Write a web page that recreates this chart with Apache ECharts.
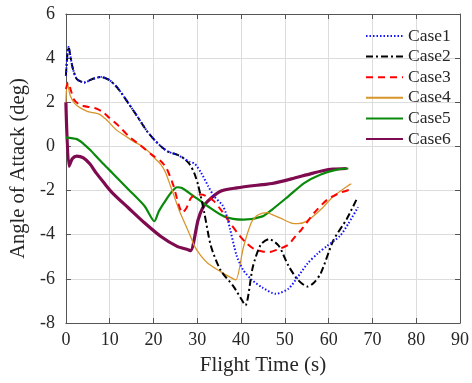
<!DOCTYPE html>
<html>
<head>
<meta charset="utf-8">
<script src="https://cdn.jsdelivr.net/npm/echarts@6/dist/echarts.min.js"></script>
<style>html,body{margin:0;padding:0;background:#fff}#c{width:472px;height:383px}</style>
</head>
<body>
<div id="c"></div>
<script>
// ---- data ----
const xTicks = [0, 10, 20, 30, 40, 50, 60, 70, 80, 90];
const yTicks = [-8, -6, -4, -2, 0, 2, 4, 6];
const seriesNames = ['Case1', 'Case2', 'Case3', 'Case4', 'Case5', 'Case6'];

const case1T = [0, 0.6, 1.5, 2.5, 4.2, 6, 8, 10, 12, 14.3, 16.5, 18.5, 20.2, 22, 23.5, 25.5, 27, 28.3, 29.4, 30.9, 32.5, 33.8, 35.7, 36.5, 37.5, 39, 40.5, 42.5, 44.9, 47.9, 50.8, 53, 55.2, 57.5, 59.7, 62.6, 64.5, 66.7];
const case1V = [3.2, 4.5, 3.6, 3.05, 2.9, 3.05, 3.15, 3.0, 2.6, 1.95, 1.3, 0.7, 0.3, -0.05, -0.25, -0.38, -0.55, -0.7, -0.78, -1.2, -1.8, -2.25, -2.65, -3.0, -3.75, -4.95, -5.6, -6.05, -6.4, -6.68, -6.45, -5.9, -5.3, -4.85, -4.5, -4.05, -3.5, -2.75];

const case2T = [0, 0.6, 1.5, 2.5, 4.2, 6, 8, 10, 12, 14.3, 16.5, 18.5, 20.2, 22, 23.5, 25.5, 27, 28.3, 29.3, 30.2, 31.6, 33.1, 35.3, 38.3, 40, 41, 42.7, 44.5, 46.4, 48.6, 50.8, 53, 55.2, 56.5, 58.2, 61.1, 64.1, 66.5];
const case2V = [3.2, 4.5, 3.6, 3.05, 2.9, 3.05, 3.15, 3.0, 2.6, 1.95, 1.3, 0.7, 0.3, -0.05, -0.25, -0.38, -0.55, -0.82, -1.2, -1.75, -3.0, -4.5, -5.6, -6.35, -6.9, -7.2, -5.45, -4.45, -4.2, -4.5, -5.4, -6.05, -6.35, -6.2, -5.75, -4.25, -3.3, -2.35];

const case3T = [0, 0.5, 1.2, 1.8, 3, 4, 6.9, 8.5, 9.9, 12.1, 14.3, 17, 19.5, 21.7, 23, 24.6, 25.7, 26.6, 27.5, 28.7, 30.9, 32.5, 33.8, 35.5, 37.5, 39.5, 41.2, 43, 44.9, 46.5, 48.2, 50.8, 52.5, 53.8, 56.7, 59.7, 62.6, 65];
const case3V = [2.6, 2.9, 2.5, 2.14, 1.9, 1.83, 1.72, 1.55, 1.3, 0.92, 0.47, 0.05, -0.36, -0.67, -1.0, -1.8, -2.6, -3.0, -2.8, -2.3, -2.18, -2.3, -2.48, -2.9, -3.47, -4.0, -4.38, -4.65, -4.76, -4.78, -4.68, -4.45, -4.05, -3.77, -3.01, -2.41, -2.1, -1.95];

const case4T = [0, 0.3, 1, 2, 3.2, 5, 6.2, 7.7, 9, 9.9, 11.5, 13.6, 15.5, 17.3, 19, 19.8, 21.7, 22.8, 23.9, 25, 26.1, 27.2, 28.3, 29.4, 30.8, 32.4, 35.3, 37.5, 38.8, 40.5, 42.3, 43.5, 44.9, 46, 47.1, 49, 51.5, 53, 55.2, 58.2, 61.1, 64.8, 65.2];
const case4V = [2.0, 2.9, 2.3, 1.95, 1.76, 1.58, 1.53, 1.45, 1.25, 1.08, 0.75, 0.47, 0.22, 0.02, -0.25, -0.44, -0.82, -1.2, -1.8, -2.41, -3.01, -3.5, -4.0, -4.53, -4.95, -5.29, -5.67, -5.92, -6.05, -4.6, -3.47, -3.15, -3.02, -3.0, -3.09, -3.25, -3.47, -3.5, -3.36, -2.86, -2.26, -1.73, -1.7];

const case5T = [0, 2.5, 4, 5.5, 6.9, 8.7, 10.6, 14.3, 18, 20.2, 21.2, 22.4, 24, 25.4, 26.5, 28.7, 32.4, 36.1, 40.5, 44.9, 47.1, 50.8, 54.5, 58.2, 61.9, 64.5];
const case5V = [0.4, 0.33, 0.12, -0.15, -0.44, -0.82, -1.2, -1.95, -2.71, -3.39, -2.95, -2.56, -2.1, -1.85, -1.88, -2.18, -2.71, -3.17, -3.32, -3.17, -2.86, -2.26, -1.65, -1.27, -1.05, -1.0];

const case6T = [0, 0.7, 1.5, 2.5, 4, 5.5, 6.9, 8.7, 10.6, 14.3, 18, 21.7, 25.4, 27.9, 28.5, 30.2, 31.2, 32.4, 35.3, 39, 44.9, 47.1, 51.5, 56, 58.9, 61, 64.1];
const case6V = [2.0, -0.9, -0.55, -0.44, -0.52, -0.8, -1.2, -1.65, -2.1, -2.79, -3.47, -4.08, -4.53, -4.68, -4.72, -3.32, -2.8, -2.48, -2.03, -1.88, -1.73, -1.68, -1.47, -1.23, -1.09, -1.03, -1.0];

// ---- build ----
const pairs = (t, v) => t.map((x, i) => [x, v[i]]);
const allT = [case1T, case2T, case3T, case4T, case5T, case6T];
const allV = [case1V, case2V, case3V, case4V, case5V, case6V];
const styles = [
  { color: '#1414FF', width: 2, type: [1.5, 2] },
  { color: '#000000', width: 2, type: [7, 3, 2, 3] },
  { color: '#FF0000', width: 2, type: [7, 5] },
  { color: '#D8952A', width: 1.3, type: 'solid' },
  { color: '#0A8A0A', width: 2.2, type: 'solid' },
  { color: '#7E0A4F', width: 3.2, type: 'solid' }
];
const FONT = '"Liberation Serif", "Times New Roman", serif';
const TXT = '#262626';

const series = seriesNames.map((n, i) => ({
  name: n,
  type: 'line',
  data: pairs(allT[i], allV[i]),
  showSymbol: false,
  symbol: 'none',
  smooth: 0.25,
  lineStyle: { color: styles[i].color, width: styles[i].width, type: styles[i].type },
  itemStyle: { color: styles[i].color },
  z: 10 - i
}));

const chart = echarts.init(document.getElementById('c'), null, { renderer: 'canvas' });
const axisCommon = {
  axisLine: { show: true, onZero: false, lineStyle: { color: '#555', width: 1 } },
  axisTick: { show: true, inside: true, length: 5, lineStyle: { color: '#555' } }
};
chart.setOption({
  animation: false,
  backgroundColor: '#fff',
  grid: { left: 57, right: 9, top: 14, bottom: 60, show: false },
  legend: {
    orient: 'vertical',
    left: 365,
    top: 26,
    padding: 0,
    itemWidth: 37,
    itemHeight: 10,
    itemGap: 0.6,
    itemStyle: { opacity: 0 },
    data: seriesNames,
    textStyle: { fontFamily: FONT, fontSize: 17.5, color: TXT, lineHeight: 20 }
  },
  xAxis: [{
    type: 'value', min: 0, max: 90, interval: 10, position: 'bottom',
    name: 'Flight Time (s)', nameLocation: 'middle', nameGap: 32,
    nameTextStyle: { fontFamily: FONT, fontSize: 21, color: TXT },
    axisLabel: { fontFamily: FONT, fontSize: 18, color: TXT, margin: 8,
      formatter: v => xTicks.includes(v) ? String(v) : '' },
    splitLine: { show: true, lineStyle: { color: '#dcdcdc', width: 1 } },
    ...axisCommon
  }, {
    type: 'value', min: 0, max: 90, interval: 10, position: 'top',
    axisLabel: { show: false }, splitLine: { show: false },
    ...axisCommon
  }],
  yAxis: [{
    type: 'value', min: -8, max: 6, interval: 2, position: 'left',
    name: 'Angle of Attack (deg)', nameLocation: 'middle', nameGap: 26,
    nameTextStyle: { fontFamily: FONT, fontSize: 20.5, color: TXT },
    axisLabel: { fontFamily: FONT, fontSize: 18, color: TXT, margin: 11,
      formatter: v => yTicks.includes(v) ? String(v) : '' },
    splitLine: { show: true, lineStyle: { color: '#dcdcdc', width: 1 } },
    ...axisCommon
  }, {
    type: 'value', min: -8, max: 6, interval: 2, position: 'right',
    axisLabel: { show: false }, splitLine: { show: false },
    ...axisCommon
  }],
  series: series
});
</script>
</body>
</html>
